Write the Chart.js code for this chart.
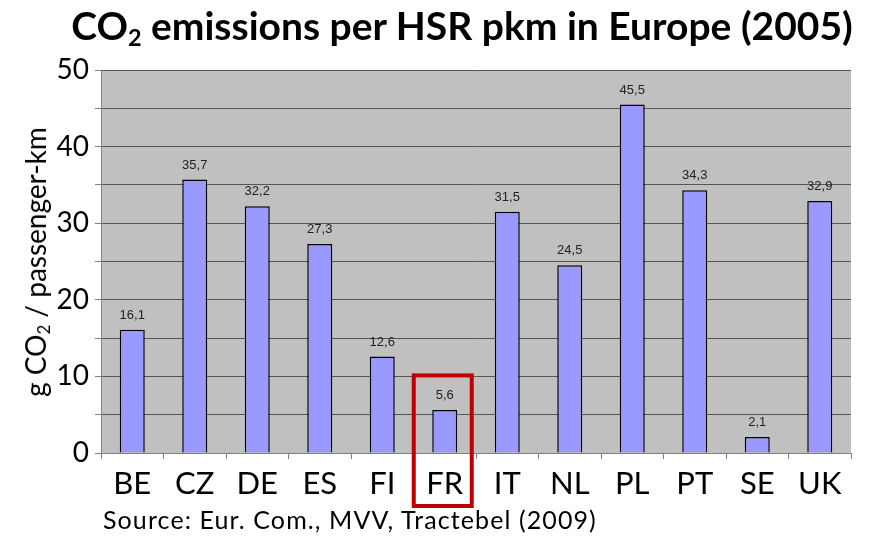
<!DOCTYPE html>
<html>
<head>
<meta charset="utf-8">
<script src="https://cdn.jsdelivr.net/npm/chart.js@4"></script>
<style>
  body { margin: 0; background: #fff; }
  #wrap { position: relative; width: 877px; height: 538px; overflow: hidden; }
  canvas { position: absolute; left: 0; top: 0; }
  .txt { position: absolute; font-family: Lato, "Open Sans", sans-serif; color: #000; white-space: nowrap; }
  #title { left: 0; width: 924px; text-align: center; top: 2px; font-size: 39px; font-weight: bold; }
  #ytitle { left: 35px; top: 262px; font-size: 28px; transform: translate(-50%, -50%) rotate(-90deg); }
  #source { left: 103px; top: 504px; font-size: 25px; letter-spacing: 1.1px; }
  sub { font-size: 0.6em; vertical-align: -0.25em; line-height: 0; }
</style>
</head>
<body>
<div id="wrap">
  <canvas id="myChart" width="877" height="538"></canvas>
  <div class="txt" id="title">CO<sub>2</sub> emissions per HSR pkm in Europe (2005)</div>
  <div class="txt" id="ytitle">g CO<sub>2</sub> / passenger-km</div>
  <div class="txt" id="source">Source: Eur. Com., MVV, Tractebel (2009)</div>
</div>
<script>
const countries = ["BE", "CZ", "DE", "ES", "FI", "FR", "IT", "NL", "PL", "PT", "SE", "UK"];
const emissions = [16.1, 35.7, 32.2, 27.3, 12.6, 5.6, 31.5, 24.5, 45.5, 34.3, 2.1, 32.9];
const highlighted = "FR";
const yMax = 50;
const yStep = 5;

const ctx = document.getElementById("myChart");

// grey plot background
const plotBack = {
  id: "plotBack",
  beforeDraw(chart) {
    const { ctx, chartArea: a } = chart;
    ctx.save();
    ctx.fillStyle = "#c0c0c0";
    ctx.fillRect(a.left, a.top, a.right - a.left, a.bottom - a.top);
    ctx.restore();
  },
};

// value labels above bars + red box round the highlighted country
const barLabels = {
  id: "barLabels",
  afterDatasetsDraw(chart) {
    const { ctx } = chart;
    const meta = chart.getDatasetMeta(0);
    ctx.save();
    ctx.font = "13px 'Liberation Sans', Arial, sans-serif";
    ctx.fillStyle = "#222";
    ctx.textAlign = "center";
    ctx.textBaseline = "bottom";
    meta.data.forEach((bar, i) => {
      const txt = emissions[i].toFixed(1).replace(".", ",");
      ctx.fillText(txt, bar.x, bar.y - 8);
    });
    ctx.restore();
  },
  afterDraw(chart) {
    const { ctx, chartArea: a } = chart;
    const xs = chart.scales.x;
    const ys = chart.scales.y;
    const i = countries.indexOf(highlighted);
    const cx = xs.getPixelForValue(i);
    ctx.save();
    ctx.strokeStyle = "#c00000";
    ctx.lineWidth = 4;
    ctx.strokeRect(cx - 31, ys.getPixelForValue(10) - 1, 58, a.bottom + 54 - ys.getPixelForValue(10));
    ctx.restore();
  },
};

new Chart(ctx, {
  type: "bar",
  data: {
    labels: countries,
    datasets: [
      {
        data: emissions,
        backgroundColor: "#9999ff",
        borderColor: "#000",
        borderWidth: 1.5,
        barPercentage: 0.4,
        categoryPercentage: 1,
      },
    ],
  },
  options: {
    responsive: false,
    animation: false,
    events: [],
    layout: { padding: { top: 70, right: 26, bottom: 33, left: 0 } },
    plugins: { legend: { display: false }, tooltip: { enabled: false } },
    scales: {
      y: {
        min: 0,
        max: yMax,
        afterFit(scale) { scale.width = 101; },
        border: { color: "#808080", width: 1 },
        grid: { color: "#555", lineWidth: 1, tickLength: 6, tickColor: "#808080" },
        ticks: {
          stepSize: yStep,
          padding: 6,
          color: "#000",
          font: { family: "Lato, 'Open Sans', sans-serif", size: 28 },
          callback: (v) => (v % 10 === 0 ? v : ""),
        },
      },
      x: {
        afterFit(scale) { scale.height = 52; },
        border: { color: "#808080", width: 1 },
        grid: { offset: true, drawOnChartArea: false, tickLength: 6, color: "#808080" },
        ticks: {
          padding: 6,
          color: "#000",
          font: { family: "Lato, 'Open Sans', sans-serif", size: 31 },
        },
      },
    },
  },
  plugins: [plotBack, barLabels],
});
</script>
</body>
</html>
